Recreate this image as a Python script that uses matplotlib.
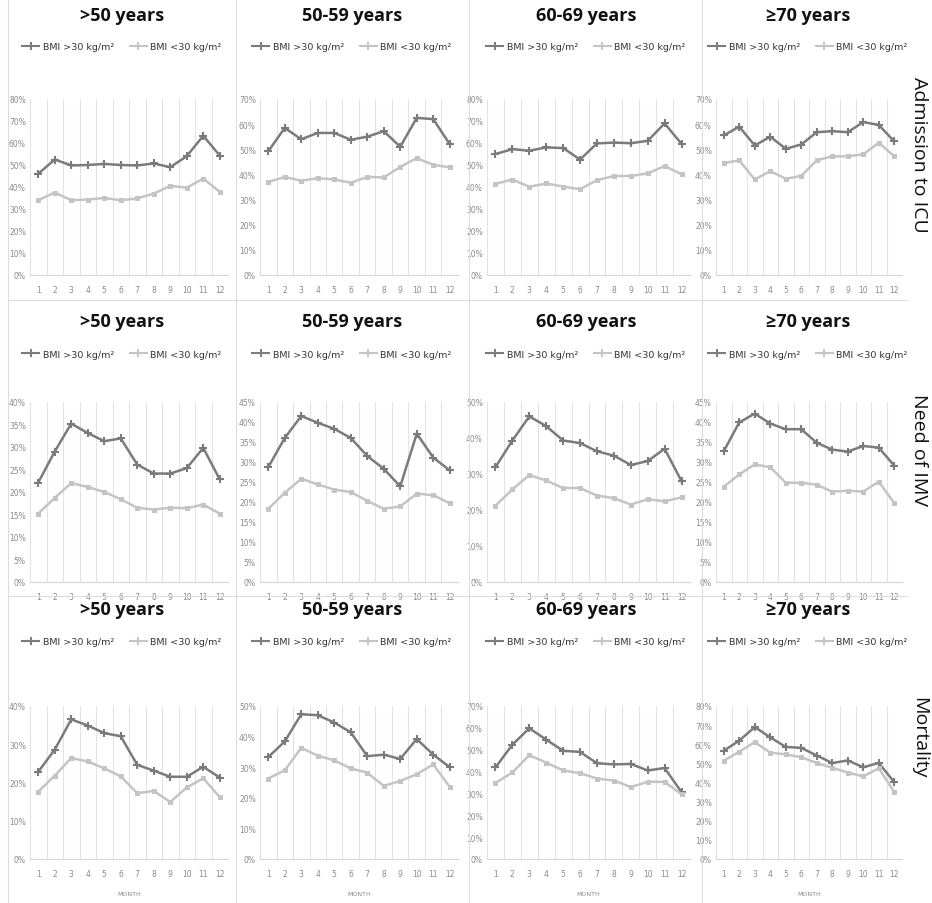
import matplotlib
matplotlib.use("Agg")
import matplotlib.pyplot as plt
from matplotlib.ticker import MultipleLocator, FuncFormatter
from matplotlib.lines import Line2D

months = list(range(1, 13))
age_groups = [">50 years", "50-59 years", "60-69 years", "≥70 years"]
outcomes = ["Admission to ICU", "Need of IMV", "Mortality"]
series_labels = ["BMI >30 kg/m²", "BMI <30 kg/m²"]
x_label = "MONTH"

# Admission to ICU (%)
icu_over50_hi = [46, 52.5, 49.8, 50, 50.5, 50, 49.8, 50.7, 49, 54, 63.3, 54.3]
icu_over50_lo = [34, 37.5, 34, 34.3, 35, 34, 34.8, 37, 40.5, 39.7, 43.8, 37.8]
icu_5059_hi = [49.2, 58.5, 54, 56.5, 56.5, 53.8, 55, 57.2, 51, 62.5, 62, 52]
icu_5059_lo = [37, 39, 37.5, 38.5, 38, 36.7, 39, 38.8, 43, 46.5, 43.8, 42.8]
icu_6069_hi = [55, 57.2, 56.5, 58, 57.7, 52.5, 59.8, 60.2, 59.9, 61, 68.9, 59.6]
icu_6069_lo = [41.4, 43.4, 40.1, 41.6, 40.2, 39, 43.1, 45, 45, 46.2, 49.5, 45.8]
icu_70_hi = [55.5, 59, 51.5, 55, 50.2, 51.9, 56.8, 57.2, 56.8, 60.8, 59.7, 53.1]
icu_70_lo = [44.5, 45.6, 38, 41.3, 38.3, 39.4, 45.6, 47.2, 47.2, 48, 52.6, 47.2]

# Need of IMV (%)
imv_over50_hi = [22.1, 29, 35.2, 33.1, 31.3, 31.9, 26.1, 24.1, 24.1, 25.3, 29.8, 22.8]
imv_over50_lo = [15.2, 18.7, 22, 21.1, 20, 18.4, 16.5, 16.1, 16.5, 16.4, 17.2, 15.2]
imv_5059_hi = [28.7, 36, 41.5, 39.8, 38.3, 36, 31.5, 28.3, 23.9, 37.1, 31.1, 27.9]
imv_5059_lo = [18.3, 22.3, 25.8, 24.4, 23.1, 22.5, 20.3, 18.3, 18.9, 22.1, 21.7, 19.7]
imv_6069_hi = [31.9, 39.3, 46, 43.3, 39.3, 38.6, 36.3, 35.1, 32.5, 33.6, 37, 28]
imv_6069_lo = [21.2, 25.7, 29.7, 28.2, 26.1, 26.1, 24, 23.3, 21.5, 23, 22.4, 23.5]
imv_70_hi = [32.7, 39.9, 42.1, 39.6, 38.2, 38.2, 34.8, 33.1, 32.6, 34, 33.6, 29.1]
imv_70_lo = [23.8, 26.9, 29.4, 28.7, 24.8, 24.8, 24.3, 22.6, 22.8, 22.6, 25.1, 19.7]

# Mortality (%)
mort_over50_hi = [22.8, 28.6, 36.5, 34.9, 32.9, 32.1, 24.6, 23.1, 21.5, 21.5, 24.1, 21.3]
mort_over50_lo = [17.6, 21.8, 26.4, 25.5, 23.7, 21.6, 17.2, 17.8, 14.9, 18.7, 21.1, 16.2]
mort_5059_hi = [33.3, 38.4, 47.3, 47, 44.6, 41.4, 33.6, 34.1, 32.7, 39.2, 34.1, 30]
mort_5059_lo = [26.3, 29, 36.3, 33.8, 32.2, 29.6, 28.2, 23.9, 25.5, 27.7, 30.9, 23.6]
mort_6069_hi = [41.9, 52.3, 59.8, 54.6, 49.5, 49, 43.8, 43.3, 43.5, 40.5, 41.6, 30.6]
mort_6069_lo = [34.8, 39.6, 47.5, 44.1, 40.5, 39.3, 36.8, 35.9, 32.9, 35.3, 35.3, 29.6]
mort_70_hi = [56.6, 61.9, 69, 63.6, 58.6, 58.1, 54.1, 50.2, 51.5, 48, 50.2, 40.2]
mort_70_lo = [51.4, 56.1, 61.1, 55.6, 54.7, 53.2, 50.2, 47.7, 45.2, 43.2, 47.4, 35.1]

hi_rows = [[icu_over50_hi, icu_5059_hi, icu_6069_hi, icu_70_hi],
           [imv_over50_hi, imv_5059_hi, imv_6069_hi, imv_70_hi],
           [mort_over50_hi, mort_5059_hi, mort_6069_hi, mort_70_hi]]
lo_rows = [[icu_over50_lo, icu_5059_lo, icu_6069_lo, icu_70_lo],
           [imv_over50_lo, imv_5059_lo, imv_6069_lo, imv_70_lo],
           [mort_over50_lo, mort_5059_lo, mort_6069_lo, mort_70_lo]]

y_max = [[80, 70, 80, 70], [40, 45, 50, 45], [40, 50, 70, 80]]
y_step = [[10, 10, 10, 10], [5, 5, 10, 5], [10, 10, 10, 10]]

# layout (pixels)
W, H = 932, 904
col_lr = [(30, 228), (260, 458), (487, 690), (716, 902)]
row_tb = [(100, 276), (403, 583), (707, 860)]
title_y = [16, 322, 610]
legend_y = [48, 355, 643]
cell_cx = [122, 352, 586, 808]
row_label_y = [155, 450, 738]

dark = "#7b7b7b"
light = "#c4c4c4"
tick_col = "#8a8a8a"
grid_col = "#e3e3e3"

fig = plt.figure(figsize=(W / 100, H / 100), dpi=100)
fig.patch.set_facecolor("white")


def fx(px):
    return px / W


def fy(py):
    return 1 - py / H


# cell separators
for xs in [8, 236, 469, 702]:
    fig.add_artist(Line2D([fx(xs), fx(xs)], [0.0, 1.0], color="#dcdcdc", lw=0.8))
for ys in [301, 597]:
    fig.add_artist(Line2D([fx(8), fx(906)], [fy(ys), fy(ys)], color="#dcdcdc", lw=0.8))

for r in range(3):
    t, b = row_tb[r]
    for c in range(4):
        l, rr = col_lr[c]
        ax = fig.add_axes([fx(l), fy(b), (rr - l) / W, (b - t) / H])
        ax.plot(months, hi_rows[r][c], color=dark, lw=1.8, marker="+", ms=6, mew=1.5,
                solid_joinstyle="round")
        ax.plot(months, lo_rows[r][c], color=light, lw=1.8, marker="s", ms=3.6, mew=0,
                solid_joinstyle="round")
        ax.set_xlim(0.5, 12.5)
        ax.set_ylim(0, y_max[r][c])
        ax.yaxis.set_major_locator(MultipleLocator(y_step[r][c]))
        ax.yaxis.set_major_formatter(FuncFormatter(lambda v, p: f"{v:.0f}%"))
        ax.set_xticks(months)
        ax.set_xticks([m + 0.5 for m in range(0, 13)], minor=True)
        ax.grid(True, axis="x", which="minor", color=grid_col, lw=0.8)
        ax.grid(False, axis="y")
        ax.grid(False, axis="x", which="major")
        for s in ["top", "right", "left"]:
            ax.spines[s].set_visible(False)
        ax.spines["bottom"].set_color("#d6d6d6")
        ax.spines["bottom"].set_linewidth(0.8)
        ax.tick_params(axis="both", which="both", length=0, labelsize=5.5,
                       labelcolor=tick_col)
        ax.tick_params(axis="x", pad=7)
        ax.tick_params(axis="y", pad=3)
        ax.set_facecolor("none")

        handles = [Line2D([], [], color=dark, lw=1.5, marker="+", ms=6, mew=1.4),
                   Line2D([], [], color=light, lw=1.5, marker="+", ms=6, mew=1.4)]
        ax.legend(handles, series_labels, loc="center", ncol=2, frameon=False,
                  fontsize=6.8, handlelength=1.8, handletextpad=0.4, columnspacing=1.6,
                  bbox_to_anchor=(fx(cell_cx[c]), fy(legend_y[r])),
                  bbox_transform=fig.transFigure, labelcolor="#333333")

        fig.text(fx(cell_cx[c]), fy(title_y[r]), age_groups[c], ha="center", va="center",
                 fontsize=13, fontweight="bold", family=["Open Sans", "DejaVu Sans"],
                 color="#111111")
        if r == 2:
            fig.text(fx((l + rr) / 2), fy(895), x_label, ha="center", va="center",
                     fontsize=4.5, color=tick_col)

for r in range(3):
    fig.text(fx(919), fy(row_label_y[r]), outcomes[r], rotation=-90, ha="center",
             va="center", fontsize=14, family=["Open Sans", "DejaVu Sans"], color="#111111")

fig.savefig("out.png", dpi=100, facecolor="white")
